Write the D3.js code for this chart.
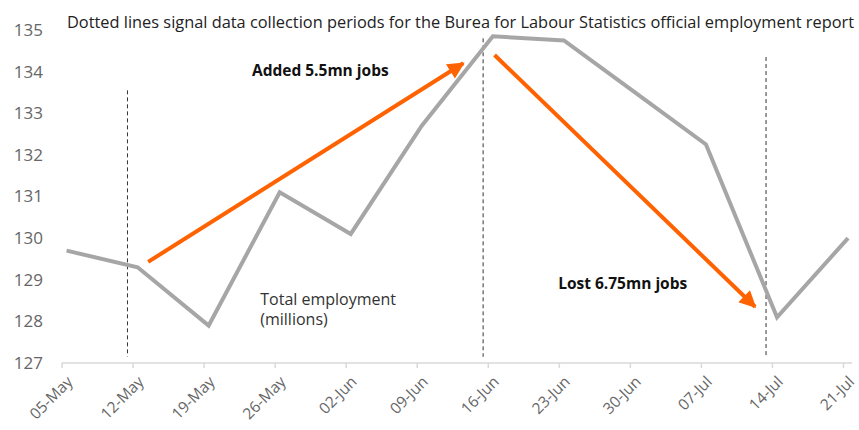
<!DOCTYPE html>
<html>
<head>
<meta charset="utf-8">
<script src="https://cdn.jsdelivr.net/npm/d3@7"></script>
<style>
  body { margin: 0; background: #fff; }
  text { font-family: "Open Sans", sans-serif; }
</style>
</head>
<body>
<div id="chart"></div>
<script>
// weekly total employment (millions)
const weeks = ["2020-05-05", "2020-05-12", "2020-05-19", "2020-05-26", "2020-06-02", "2020-06-09",
               "2020-06-16", "2020-06-23", "2020-06-30", "2020-07-07", "2020-07-14", "2020-07-21"];
const employment = [129.7, 129.3, 127.9, 131.1, 130.1, 132.7, 134.85, 134.75, 133.5, 132.25, 128.1, 130.0];
const yTicks = [127, 128, 129, 130, 131, 132, 133, 134, 135];

// BLS collection periods (dotted lines): date, top value
const collectionDates = ["2020-05-11T12:00", "2020-06-15T13:00", "2020-07-13T10:00"];
const collectionTops = [133.55, 134.8, 134.35];

// arrows: start / end as [date, value]
const arrowFrom = [["2020-05-13T13:00", 129.43], ["2020-06-16T16:00", 134.4]];
const arrowTo = [["2020-06-13T14:00", 134.2], ["2020-07-12T08:00", 128.35]];
const arrowLabels = ["Added 5.5mn jobs", "Lost 6.75mn jobs"];
const arrowLabelAt = [["2020-05-30T12:00", 134.02], ["2020-06-29T07:00", 128.9]];

const title = "Dotted lines signal data collection periods for the Burea for Labour Statistics official employment report";
const seriesLabel = ["Total employment", "(millions)"];
const seriesLabelAt = ["2020-05-24T14:00", 128.4];

const parse = d3.isoParse;
const width = 859, height = 430;
const margin = { top: 30, right: 9, bottom: 67, left: 61.5 };

const svg = d3.select("#chart").append("svg")
  .attr("width", width)
  .attr("height", height);

const x = d3.scaleTime()
  .domain([parse(weeks[0]), parse(weeks[weeks.length - 1])])
  .range([margin.left, 843]);

const y = d3.scaleLinear()
  .domain([127, 135])
  .range([height - margin.bottom, margin.top]);

const orange = "#ff6200";
const grey = "#a6a6a6";

// points sit half a day right of the ticks
const halfDay = 12 * 3600 * 1000;
const data = weeks.map((w, i) => ({ date: new Date(parse(w).getTime() + halfDay), value: employment[i] }));

// x axis
const xAxis = svg.append("g")
  .attr("transform", `translate(0,${y(127)})`)
  .call(d3.axisBottom(x)
    .tickValues(weeks.map(parse))
    .tickFormat(d3.timeFormat("%d-%b"))
    .tickSize(5)
    .tickSizeOuter(0));
xAxis.select(".domain").attr("stroke", "#d9d9d9").attr("stroke-width", 1.5)
  .attr("d", `M${x.range()[0]},0H${width - 7}`);
xAxis.selectAll(".tick line").attr("stroke", "#d9d9d9").attr("stroke-width", 1.5);
xAxis.selectAll(".tick text")
  .attr("fill", "#666")
  .style("font-size", "15.5px")
  .attr("text-anchor", "end")
  .attr("dy", null)
  .attr("transform", "translate(6,14) rotate(-45)");

// y axis labels
const yAxis = svg.append("g")
  .attr("transform", `translate(43,0)`)
  .call(d3.axisLeft(y).tickValues(yTicks).tickFormat(d3.format("d")).tickSize(0));
yAxis.select(".domain").remove();
yAxis.selectAll(".tick text")
  .attr("fill", "#666")
  .attr("x", 0)
  .style("font-size", "17px");

// dotted collection period lines
svg.append("g").selectAll("line")
  .data(collectionDates)
  .join("line")
    .attr("x1", d => x(parse(d)))
    .attr("x2", d => x(parse(d)))
    .attr("y1", (d, i) => y(collectionTops[i]))
    .attr("y2", y(127.15))
    .attr("stroke", "#333")
    .attr("stroke-width", 1)
    .attr("stroke-dasharray", "4,3");

// employment line
svg.append("path")
  .datum(data)
  .attr("fill", "none")
  .attr("stroke", grey)
  .attr("stroke-width", 4)
  .attr("stroke-linejoin", "miter")
  .attr("d", d3.line().x(d => x(d.date)).y(d => y(d.value)));

// arrows
svg.append("defs").append("marker")
  .attr("id", "head")
  .attr("viewBox", "0 0 10 10")
  .attr("refX", 9)
  .attr("refY", 5)
  .attr("markerWidth", 5)
  .attr("markerHeight", 4.2)
  .attr("markerUnits", "strokeWidth")
  .attr("orient", "auto")
  .append("path")
    .attr("d", "M0,0L10,5L0,10z")
    .attr("fill", orange);

svg.append("g").selectAll("line")
  .data(arrowFrom)
  .join("line")
    .attr("x1", d => x(parse(d[0])))
    .attr("y1", d => y(d[1]))
    .attr("x2", (d, i) => x(parse(arrowTo[i][0])))
    .attr("y2", (d, i) => y(arrowTo[i][1]))
    .attr("stroke", orange)
    .attr("stroke-width", 4)
    .attr("marker-end", "url(#head)");

svg.append("g").selectAll("text")
  .data(arrowLabels)
  .join("text")
    .attr("x", (d, i) => x(parse(arrowLabelAt[i][0])))
    .attr("y", (d, i) => y(arrowLabelAt[i][1]))
    .attr("dy", "0.35em")
    .attr("text-anchor", "middle")
    .attr("fill", "#111")
    .style("font-size", "15.5px")
    .style("font-weight", "bold")
    .text(d => d);

// series label, one text per line
const labelX = x(parse(seriesLabelAt[0]));
svg.append("g").selectAll("text")
  .data(seriesLabel)
  .join("text")
    .attr("x", labelX)
    .attr("y", (d, i) => y(seriesLabelAt[1]) + i * 20)
    .attr("fill", "#333")
    .style("font-size", "16px")
    .text(d => d);

// title
svg.append("text")
  .attr("x", 67)
  .attr("y", 28)
  .attr("fill", "#222")
  .style("font-size", "15.5px")
  .attr("textLength", 787)
  .attr("lengthAdjust", "spacingAndGlyphs")
  .text(title);
</script>
</body>
</html>
